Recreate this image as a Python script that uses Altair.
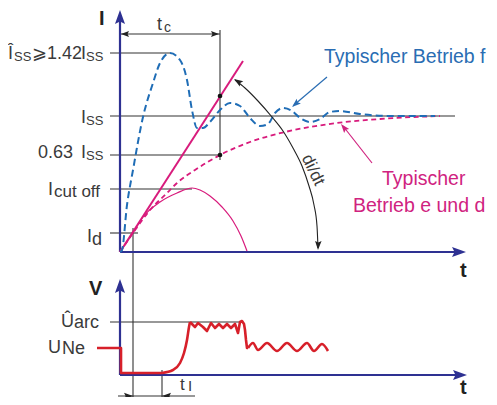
import altair as alt
import pandas as pd

# ---- schematic coordinates (canvas pixels) ----
# blue dashed current (Typischer Betrieb f)
blue_x = [120, 122, 127, 133, 143, 153, 160, 170, 180, 187, 192, 197, 203, 210, 220, 230, 240, 250, 260, 268, 275, 283, 292, 300, 310, 320, 330, 340, 360, 390, 435]
blue_y = [252, 250, 205, 170, 117, 83, 63, 53, 60, 80, 110, 128, 128, 122, 110, 103, 106, 118, 126, 124, 113, 108, 111, 118, 122, 119, 112, 111, 114, 116, 116]
# magenta dashed current (Typischer Betrieb e und d)
mag_x = [120, 133, 150, 167, 177, 195, 220, 250, 285, 337, 380, 440]
mag_y = [252, 233, 210, 193, 183, 170, 155, 142, 132, 123, 119, 116]
# magenta thin arch (cut-off current)
arch_x = [120, 133, 143, 160, 177, 192, 200, 210, 222, 233, 241, 247]
arch_y = [252, 233, 217, 202, 193, 188, 190, 196, 207, 221, 236, 251]
# di/dt tangent
tan_x = [120, 243]
tan_y = [252, 61]
# di/dt arc
arc_x = [235, 245, 258, 272, 283, 293, 302, 309, 314, 317, 318]
arc_y = [80, 88, 101, 117, 131, 148, 166, 186, 205, 226, 248]
# arc voltage
v1_x = [97, 121, 121, 162]
v1_y = [348, 348, 373, 373]
v2_x = [162, 173, 180, 184, 187, 189, 190]
v2_y = [373, 370, 363, 353, 340, 327, 322]
v3_x = [190, 195, 198, 203, 207, 211, 215, 219, 223, 227, 231, 235, 238, 240, 242, 244, 245, 246, 247, 248]
v3_y = [322, 327, 323, 327, 331, 323, 328, 324, 328, 324, 328, 324, 333, 322, 321, 324, 330, 340, 348, 348]
v4_x = [248, 253, 258, 267, 277, 287, 297, 307, 314, 322, 328]
v4_y = [348, 343, 350, 343, 351, 343, 351, 343, 351, 344, 351]

# axes (navy)
axis_x1 = [120, 120, 120, 120]
axis_y1 = [252, 252, 375, 375]
axis_x2 = [120, 462, 120, 463]
axis_y2 = [16, 252, 284, 375]
# thin grey guide lines
guide_x1 = [110, 110, 110, 110, 110, 220, 120, 110, 133, 162, 118]
guide_y1 = [53, 116, 155, 189, 233, 30, 34, 322, 228, 370, 396]
guide_x2 = [170, 455, 220, 192, 138, 220, 220, 243, 133, 162, 195]
guide_y2 = [53, 116, 155, 189, 233, 160, 34, 322, 397, 397, 396]
# pointer lines
ptr_x1 = [327, 372]
ptr_y1 = [77, 163]
ptr_x2 = [294, 343]
ptr_y2 = [105, 126]
ptr_col = ["#2a6db3", "#d0237f"]
# dots
dot_x = [220, 220]
dot_y = [96, 155]
# arrow heads (tip, angle clockwise from up, length, colour)
ah_x = [120, 466, 120, 467, 121, 219, 133, 162, 234, 318, 292, 341]
ah_y = [10, 252, 279, 375, 34, 34, 396, 396, 79, 250, 107, 124]
ah_a = [0, 90, 0, 90, 270, 90, 90, 270, 303, 182, 229, 321]
ah_len = [14, 14, 14, 14, 8, 8, 9, 9, 9, 9, 9, 9]
ah_col = ["#2e3192"] * 4 + ["#222222"] * 6 + ["#2a6db3", "#d0237f"]

# text pieces
txt = ["Î", "SS", "⩾1.42", "I", "SS",
       "I", "SS",
       "0.63 ", "I", "SS",
       "I", "cut off",
       "I", "d",
       "Û", "arc",
       "U", "Ne",
       "t", "c",
       "t", "I"]
txt_x = [8, 14, 32, 81, 86,
         81, 86,
         38, 81, 86,
         48, 54,
         87, 92,
         61, 74,
         48, 62,
         157, 164,
         180, 188]
txt_y = [59, 61, 59, 59, 61,
         123, 125,
         158, 158, 160,
         195, 197,
         242, 245,
         327, 328,
         353, 354,
         30, 32,
         390, 391]
txt_s = [18, 13, 18, 18, 13,
         18, 13,
         18, 18, 13,
         18, 17,
         18, 18,
         18, 18,
         18, 18,
         18, 14,
         17, 15]
bold_txt = ["I", "V", "t", "t"]
bold_x = [99, 89, 460, 460]
bold_y = [25, 295, 277, 394]
ann_txt = ["Typischer Betrieb f", "Typischer", "Betrieb e und d"]
ann_x = [324, 382, 353]
ann_y = [63, 185, 212]
ann_col = ["#2a6db3", "#d0237f", "#d0237f"]

FONT = "Liberation Sans"
GREY = "#3a3a3a"
NAVY = "#2e3192"

xsc = alt.Scale(domain=[8, 489], nice=False, zero=False)
ysc = alt.Scale(domain=[8, 397], nice=False, zero=False, reverse=True)
X = lambda f="x": alt.X(f + ":Q", scale=xsc, axis=None)
Y = lambda f="y": alt.Y(f + ":Q", scale=ysc, axis=None)


def curve(xv, yv, color, width, dash=None, interp="linear"):
    df = pd.DataFrame({"x": xv, "y": yv, "o": list(range(len(xv)))})
    kw = dict(color=color, strokeWidth=width, interpolate=interp, strokeCap="butt", strokeJoin="round")
    if dash:
        kw["strokeDash"] = dash
    return alt.Chart(df).mark_line(**kw).encode(x=X(), y=Y(), order="o:Q")


def segs(x1, y1, x2, y2, color, width):
    df = pd.DataFrame({"x": x1, "y": y1, "x2": x2, "y2": y2})
    return alt.Chart(df).mark_rule(color=color, strokeWidth=width).encode(
        x=X(), y=Y(), x2="x2:Q", y2="y2:Q")


layers = []
layers.append(segs(guide_x1, guide_y1, guide_x2, guide_y2, "#333333", 1.1))
layers.append(segs(axis_x1, axis_y1, axis_x2, axis_y2, NAVY, 2.2))
layers.append(curve(arch_x, arch_y, "#d81b7c", 1.2, interp="monotone"))
layers.append(curve(mag_x, mag_y, "#d81b7c", 1.8, dash=[5, 3.5], interp="monotone"))
layers.append(curve(tan_x, tan_y, "#d81b7c", 2.0))
layers.append(curve(blue_x, blue_y, "#1f6db6", 2.0, dash=[7, 4], interp="monotone"))
layers.append(curve(arc_x, arc_y, "#222222", 1.1, interp="monotone"))
layers.append(curve(v1_x, v1_y, "#d7202a", 2.6))
layers.append(curve(v2_x, v2_y, "#d7202a", 2.6, interp="monotone"))
layers.append(curve(v3_x, v3_y, "#d7202a", 2.6))
layers.append(curve(v4_x, v4_y, "#d7202a", 2.6, interp="monotone"))

ptr_df = pd.DataFrame({"x": ptr_x1, "y": ptr_y1, "x2": ptr_x2, "y2": ptr_y2, "c": ptr_col})
layers.append(alt.Chart(ptr_df).mark_rule(strokeWidth=1.2).encode(
    x=X(), y=Y(), x2="x2:Q", y2="y2:Q", color=alt.Color("c:N", scale=None)))

dot_df = pd.DataFrame({"x": dot_x, "y": dot_y})
layers.append(alt.Chart(dot_df).mark_point(filled=True, color="#111111", size=22, opacity=1).encode(x=X(), y=Y()))

ah_df = pd.DataFrame({"x": ah_x, "y": ah_y, "a": ah_a,
                      "s": [(2 * l) ** 2 for l in ah_len], "c": ah_col})
layers.append(alt.Chart(ah_df).mark_point(
    shape="M0,0L-0.36,1L0,0.82L0.36,1Z", filled=True, opacity=1, strokeWidth=0).encode(
    x=X(), y=Y(), angle=alt.Angle("a:Q", scale=None),
    size=alt.Size("s:Q", scale=None), color=alt.Color("c:N", scale=None)))

t_df = pd.DataFrame({"t": txt, "x": txt_x, "y": txt_y, "s": txt_s})
layers.append(alt.Chart(t_df).mark_text(font=FONT, color=GREY, align="left", baseline="alphabetic").encode(
    x=X(), y=Y(), text="t:N", size=alt.Size("s:Q", scale=None)))

b_df = pd.DataFrame({"t": bold_txt, "x": bold_x, "y": bold_y})
layers.append(alt.Chart(b_df).mark_text(font=FONT, color="#222222", fontWeight="bold", fontSize=20,
                                         align="left", baseline="alphabetic").encode(
    x=X(), y=Y(), text="t:N"))

a_df = pd.DataFrame({"t": ann_txt, "x": ann_x, "y": ann_y, "c": ann_col})
layers.append(alt.Chart(a_df).mark_text(font=FONT, fontSize=19.5, align="left", baseline="alphabetic").encode(
    x=X(), y=Y(), text="t:N", color=alt.Color("c:N", scale=None)))

didt_df = pd.DataFrame({"t": ["di/dt"], "x": [313], "y": [170]})
layers.append(alt.Chart(didt_df).mark_text(font=FONT, fontSize=17, color=GREY, angle=64,
                                            align="center", baseline="middle").encode(
    x=X(), y=Y(), text="t:N"))

chart = alt.layer(*layers).properties(
    width=481, height=389, autosize="none", padding=0, background="white"
).configure_view(stroke=None)

chart.save("out.html", embed_options={"renderer": "svg", "actions": False})
